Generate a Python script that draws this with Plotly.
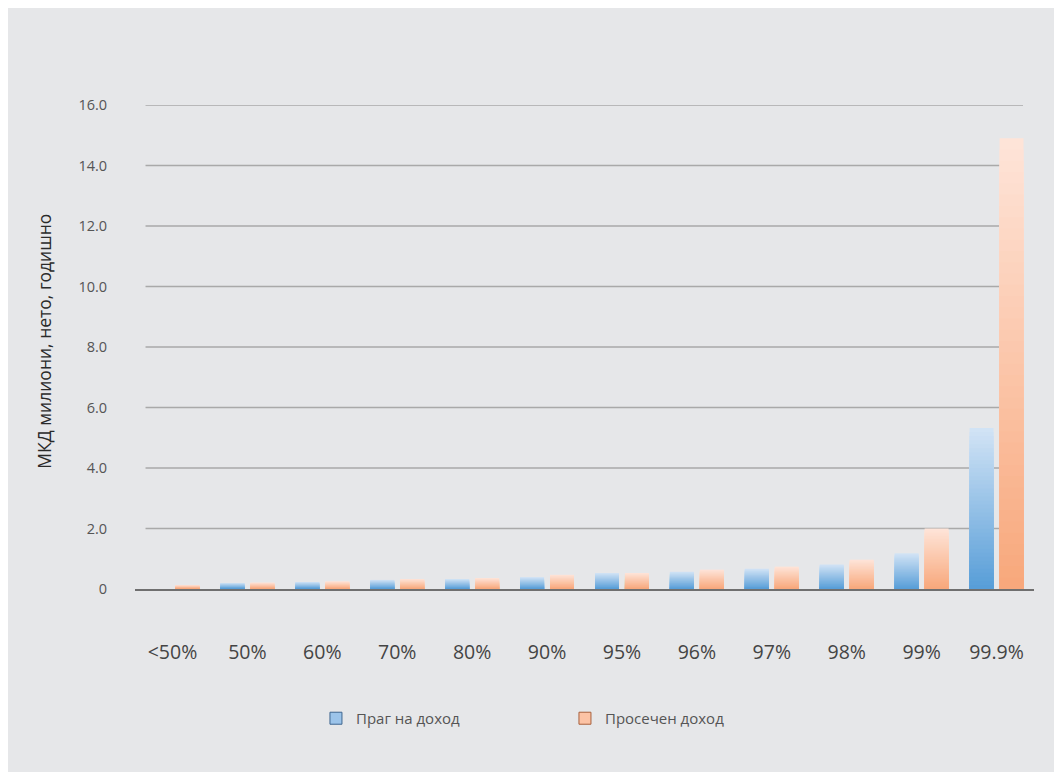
import plotly.graph_objects as go

categories = ["<50%", "50%", "60%", "70%", "80%", "90%", "95%", "96%", "97%", "98%", "99%", "99.9%"]
threshold = [None, 0.20, 0.23, 0.30, 0.33, 0.39, 0.53, 0.57, 0.67, 0.81, 1.18, 5.32]
average = [0.13, 0.21, 0.25, 0.33, 0.36, 0.47, 0.53, 0.64, 0.74, 0.97, 2.00, 14.90]
series_names = ["Праг на доход", "Просечен доход"]
y_tickvals = [0, 2, 4, 6, 8, 10, 12, 14, 16]
y_ticktext = ["0", "2.0", "4.0", "6.0", "8.0", "10.0", "12.0", "14.0", "16.0"]
y_title = "МКД милиони, нето, годишно"

BG = "#e6e7e9"
BLUE_TOP, BLUE_BOT = (209, 227, 245), (88, 158, 216)
ORG_TOP, ORG_BOT = (254, 228, 216), (248, 168, 124)
N = 40


def mix(c1, c2, t):
    return "rgb(%d,%d,%d)" % tuple(round(a + (b - a) * t) for a, b in zip(c1, c2))


fig = go.Figure()

series = [(series_names[0], threshold, BLUE_TOP, BLUE_BOT, "g1"),
          (series_names[1], average, ORG_TOP, ORG_BOT, "g2")]

for name, vals, ctop, cbot, grp in series:
    # overlapping layers: full bar (light) first, shorter darker layers on top -> vertical gradient
    for k in range(N):
        frac = (N - k) / N
        ys = [None if v is None else v * frac for v in vals]
        fig.add_trace(go.Bar(
            x=categories, y=ys, offsetgroup=grp, showlegend=False,
            marker=dict(color=mix(ctop, cbot, k / (N - 1)), line=dict(width=0)),
            hoverinfo="skip",
        ))

legend_fill = ["#9cc4ea", "#fcc3a5"]
legend_line = ["#3e6690", "#a8603c"]
for (name, vals, ctop, cbot, grp), fc, lc in zip(series, legend_fill, legend_line):
    fig.add_trace(go.Bar(
        x=categories, y=[None] * len(categories), offsetgroup=grp, name=name,
        marker=dict(color=fc, line=dict(color=lc, width=1)),
    ))

# inset gridlines
for v in y_tickvals[1:]:
    fig.add_shape(type="line", xref="paper", yref="y", x0=0.0117, x1=0.9878, y0=v, y1=v,
                  line=dict(color="#a9a9a9", width=1.5), layer="below")

fig.add_annotation(text=y_title, xref="paper", yref="paper", x=-0.1007, y=0.512,
                   textangle=-90, showarrow=False, xanchor="center", yanchor="middle",
                   font=dict(size=17.5, color="#2a2a2a"))

fig.update_layout(
    width=1054, height=764,
    margin=dict(l=127, r=28, t=97, b=183, pad=0),
    paper_bgcolor=BG, plot_bgcolor=BG,
    barmode="group", bargap=0.2, bargroupgap=0.2,
    font=dict(family="Open Sans, DejaVu Sans, sans-serif", color="#444444"),
    showlegend=True,
    legend=dict(orientation="h", x=0.2013, y=-0.2675, xanchor="left", yanchor="middle",
                bgcolor="rgba(0,0,0,0)", font=dict(size=15, color="#555555"),
                entrywidth=204, itemclick=False),
    xaxis=dict(showgrid=False, showline=True, linecolor="#6f6f6f", linewidth=2,
               ticks="outside", ticklen=45, tickcolor="rgba(0,0,0,0)",
               tickfont=dict(size=19.5, color="#444444"), fixedrange=True),
    yaxis=dict(range=[0, 16], showgrid=False, zeroline=False, showline=False,
               tickmode="array", tickvals=y_tickvals, ticktext=y_ticktext,
               ticks="outside", ticklen=24, tickcolor="rgba(0,0,0,0)",
               tickfont=dict(size=14.5, color="#555555"), fixedrange=True),
)

fig.write_html("out.html", config={"displayModeBar": False},
               post_script="document.body.style.overflow='hidden';")
